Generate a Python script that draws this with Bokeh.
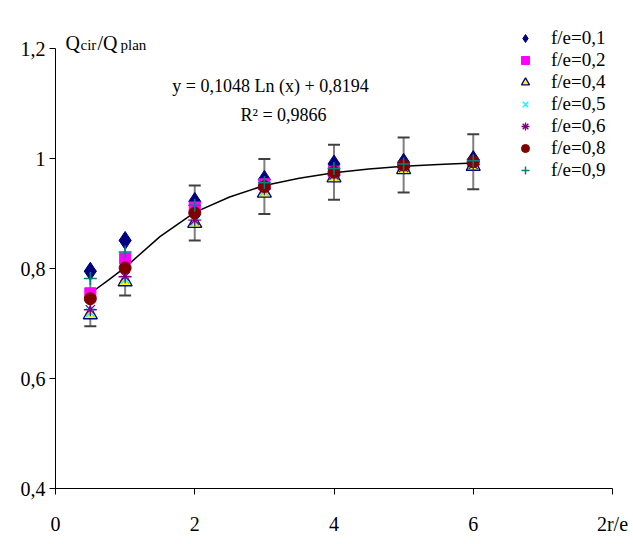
from bokeh.plotting import figure
from bokeh.models import Range1d, Legend, LegendItem, Label, Whisker, ColumnDataSource, FixedTicker, TeeHead
from bokeh.embed import file_html
from bokeh.resources import INLINE

# ---- data ----
x_vals = [0.5, 1, 2, 3, 4, 5, 6]
fe_01 = [0.795, 0.851, 0.922, 0.962, 0.990, 0.993, 0.998]
fe_02 = [0.755, 0.818, 0.911, 0.953, 0.976, 0.984, 0.989]
fe_04 = [0.716, 0.776, 0.882, 0.937, 0.965, 0.980, 0.986]
fe_05 = [0.720, 0.780, 0.885, 0.940, 0.968, 0.982, 0.988]
fe_06 = [0.725, 0.785, 0.888, 0.945, 0.970, 0.984, 0.989]
fe_08 = [0.745, 0.801, 0.901, 0.949, 0.975, 0.988, 0.994]
fe_09 = [0.782, 0.830, 0.915, 0.956, 0.982, 0.990, 0.996]
err_08 = [0.05, 0.05, 0.05, 0.05, 0.05, 0.05, 0.05]

curve_x = [0.5, 0.75, 1, 1.5, 2, 2.5, 3, 3.5, 4, 4.5, 5, 5.5, 6]
curve_y = [0.755, 0.778, 0.802, 0.858, 0.902, 0.930, 0.951, 0.964, 0.974, 0.981, 0.986, 0.989, 0.992]

x_ticks = [0, 2, 4, 6, 8]
x_tick_labels = ["0", "2", "4", "6", "2r/e"]
y_ticks = [0.4, 0.6, 0.8, 1.0, 1.2]
y_tick_labels = ["0,4", "0,6", "0,8", "1", "1,2"]

series_labels = ["f/e=0,1", "f/e=0,2", "f/e=0,4", "f/e=0,5", "f/e=0,6", "f/e=0,8", "f/e=0,9"]
eq_text = "y = 0,1048 Ln (x) + 0,8194"
r2_text = "R² = 0,9866"

FONT = "Liberation Serif"
PXU_X = 69.625
PXU_Y = 550.0

p = figure(width=633, height=544, output_backend="svg", toolbar_location=None,
           x_range=Range1d(0, 8 + 21 / PXU_X), y_range=Range1d(0.4, 1.2 + 48 / PXU_Y),
           min_border_left=55, min_border_right=0, min_border_top=0, min_border_bottom=56)
p.outline_line_color = None
p.xgrid.visible = False
p.ygrid.visible = False
p.background_fill_color = "white"
p.border_fill_color = "white"

for ax in (p.xaxis[0], p.yaxis[0]):
    ax.axis_line_color = "black"
    ax.major_tick_line_color = "black"
    ax.minor_tick_line_color = None
    ax.major_tick_in = 0
    ax.major_tick_out = 6
    ax.major_label_text_font = FONT
    ax.major_label_text_font_size = "20px"
    ax.major_label_text_color = "black"

p.xaxis[0].bounds = (0, 8)
p.xaxis[0].ticker = FixedTicker(ticks=x_ticks)
p.xaxis[0].major_label_overrides = {t: l for t, l in zip(x_ticks, x_tick_labels)}
p.xaxis[0].major_label_standoff = 18
p.yaxis[0].bounds = (0.4, 1.2)
p.yaxis[0].ticker = FixedTicker(ticks=y_ticks)
p.yaxis[0].major_label_overrides = {t: l for t, l in zip(y_ticks, y_tick_labels)}
p.yaxis[0].major_label_standoff = 4

# error bars
err_src = ColumnDataSource(dict(x=x_vals,
                                upper=[v + e for v, e in zip(fe_08, err_08)],
                                lower=[v - e for v, e in zip(fe_08, err_08)]))
wh = Whisker(source=err_src, base="x", upper="upper", lower="lower",
             line_color="#808080", line_width=2,
             upper_head=TeeHead(size=12, line_color="#404040", line_width=2),
             lower_head=TeeHead(size=12, line_color="#404040", line_width=2))
p.add_layout(wh)

# curve
p.line(curve_x, curve_y, line_color="black", line_width=1.5)

r1 = p.scatter(x_vals, fe_01, marker="diamond", size=18, fill_color="#000080", line_color="#000080")
r2 = p.scatter(x_vals, fe_02, marker="square", size=11, fill_color="#FF00FF", line_color="#FF00FF")
r3 = p.scatter(x_vals, fe_04, marker="triangle", size=14, fill_color="#FFFF00", line_color="#000080", line_width=1.3)
r4 = p.scatter(x_vals, fe_05, marker="x", size=12, line_color="#00FFFF", line_width=1.3)
r5 = p.scatter(x_vals, fe_06, marker="asterisk", size=13, line_color="#800080", line_width=1.3)
r6 = p.scatter(x_vals, fe_08, marker="circle", size=12, fill_color="#800000", line_color="#800000")
r7 = p.scatter(x_vals, fe_09, marker="cross", size=13, line_color="#008080", line_width=1.5)

items = [LegendItem(label=l, renderers=[r]) for l, r in zip(series_labels, [r1, r2, r3, r4, r5, r6, r7])]
legend = Legend(items=items, location=(460, 307), padding=0, margin=0, spacing=0,
                glyph_width=20, glyph_height=22, label_height=22, label_standoff=16,
                label_text_font=FONT, label_text_font_size="19px", label_text_color="black",
                border_line_color=None, background_fill_alpha=0)
p.add_layout(legend)

def px_x(px):
    return (px - 55) / PXU_X

def px_y(py):
    return 0.4 + (488 - py) / PXU_Y

p.add_layout(Label(x=px_x(270), y=px_y(85), text=eq_text, text_font=FONT, text_font_size="18px",
                   text_align="center", text_baseline="alphabetic", text_color="black"))
p.add_layout(Label(x=px_x(283), y=px_y(114), text=r2_text, text_font=FONT, text_font_size="18px",
                   text_align="center", text_baseline="alphabetic", text_color="black"))

# y axis title pieces
p.add_layout(Label(x=px_x(65), y=px_y(42), text="Q", text_font=FONT, text_font_size="20px",
                   text_baseline="alphabetic", text_color="black"))
p.add_layout(Label(x=px_x(80), y=px_y(44), text="cir", text_font=FONT, text_font_size="15px",
                   text_baseline="alphabetic", text_color="black"))
p.add_layout(Label(x=px_x(97), y=px_y(42), text="/Q", text_font=FONT, text_font_size="20px",
                   text_baseline="alphabetic", text_color="black"))
p.add_layout(Label(x=px_x(120), y=px_y(44), text="plan", text_font=FONT, text_font_size="15px",
                   text_baseline="alphabetic", text_color="black"))

open("out.html", "w").write(file_html(p, INLINE))
